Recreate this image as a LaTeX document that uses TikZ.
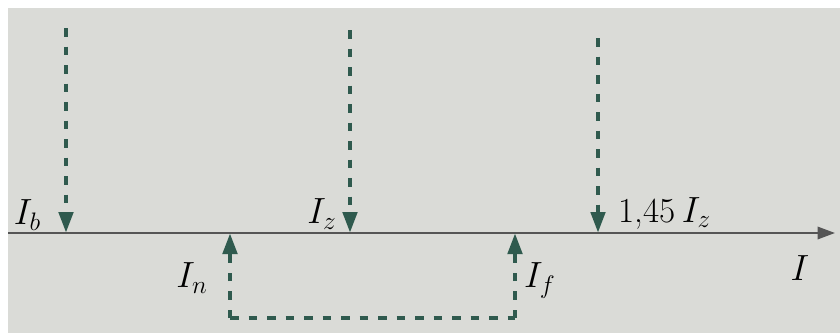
\documentclass[tikz,border=0pt]{standalone}
\usepackage{tikz}
\usepackage{amsmath}
\usetikzlibrary{arrows.meta, positioning, calc}
\definecolor{paper}{HTML}{DADBD7}
\definecolor{accent}{HTML}{2F5A4E}
\definecolor{axisgray}{HTML}{555555}

\begin{document}
\begin{tikzpicture}[>=Stealth, thick,
  flow/.style={accent, line width=2.6pt, dash pattern=on 0.17cm off 0.2cm,
    -{Triangle[length=0.42cm, width=0.28cm]}},
  flowline/.style={accent, line width=2.6pt, dash pattern=on 0.17cm off 0.2cm},
  lbl/.style={font=\fontsize{20}{22}\selectfont, inner sep=1pt}]
  \useasboundingbox (0, 0) rectangle (16.8, 6.66);
  % Podklad
  \fill[white] (0, 0) rectangle (16.8, 6.66);
  \fill[paper] (0.16, 0) rectangle (16.8, 6.5);

  % Osa proudu
  \coordinate (start) at (0.16, 2.0);
  \coordinate (end) at (16.7, 2.0);
  \draw[axisgray, line width=1.1pt, -{Triangle[length=0.35cm, width=0.25cm]}] (start) -- (end);
  \node[lbl] (I) at (16.0, 1.3) {$I$};

  % Body na ose
  \coordinate (b) at (1.32, 2.0);
  \coordinate (z) at (7.0, 2.0);
  \coordinate (k) at (11.96, 2.0);
  \coordinate (n) at (4.6, 2.0);
  \coordinate (f) at (10.3, 2.0);
  \coordinate (b top) at (1.32, 6.1);
  \coordinate (z top) at (7.0, 6.06);
  \coordinate (k top) at (11.96, 5.9);
  \coordinate (n bot) at (4.6, 0.3);
  \coordinate (f bot) at (10.3, 0.3);

  % Sipky shora
  \draw[flow] (b top) -- (b);
  \draw[flow] (z top) -- (z);
  \draw[flow] (k top) -- (k);
  % Sipky zdola
  \draw[flowline] (n bot) -- (f bot);
  \draw[flow] (n bot) -- (n);
  \draw[flow] (f bot) -- (f);

  % Popisky
  \node[lbl] (Ib) at (0.55, 2.36) {$I_b$};
  \node[lbl] (Iz) at (6.44, 2.38) {$I_z$};
  \node[lbl] (Ik) at (13.3, 2.4) {1,45\,$I_z$};
  \node[lbl] (In) at (3.84, 1.1) {$I_n$};
  \node[lbl] (If) at (10.8, 1.05) {$I_f$};
\end{tikzpicture}
\end{document}
